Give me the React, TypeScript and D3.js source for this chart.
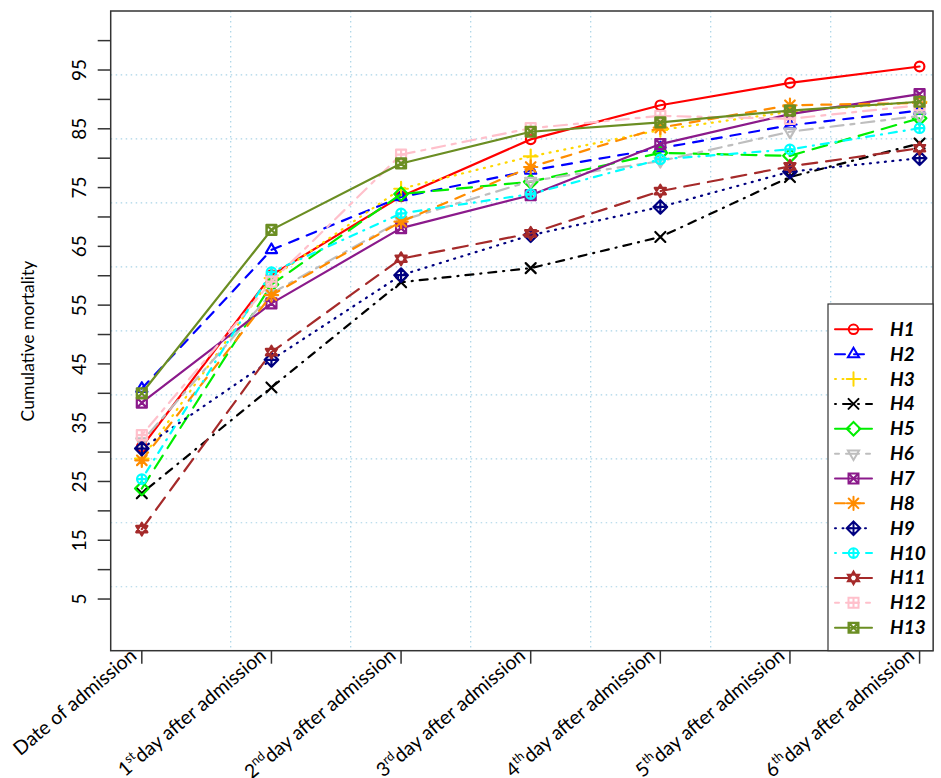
import React from 'react';
import * as d3 from 'd3';

// x categories ("^" wraps the superscript part)
const categories = [
  'Date of admission',
  '1^st^day after admission',
  '2^nd^day after admission',
  '3^rd^day after admission',
  '4^th^day after admission',
  '5^th^day after admission',
  '6^th^day after admission',
];
const dayIndex = [1, 2, 3, 4, 5, 6, 7];

const seriesNames = ['H1', 'H2', 'H3', 'H4', 'H5', 'H6', 'H7', 'H8', 'H9', 'H10', 'H11', 'H12', 'H13'];

// cumulative mortality per hospital
const h1 = [30.9, 60.1, 73.5, 83.2, 89.0, 92.8, 95.6];
const h2 = [40.8, 64.4, 73.4, 77.9, 81.7, 85.6, 88.1];
const h3 = [28.9, 59.6, 74.8, 80.3, 84.8, 87.9, 89.6];
const h4 = [23.0, 41.0, 58.9, 61.3, 66.6, 76.8, 82.5];
const h5 = [23.8, 58.5, 73.9, 76.0, 80.9, 80.4, 86.8];
const h6 = [31.8, 57.0, 69.4, 76.1, 79.5, 84.5, 87.2];
const h7 = [38.4, 55.3, 68.1, 73.7, 82.4, 87.5, 90.9];
const h8 = [28.6, 56.7, 69.2, 78.5, 85.2, 89.0, 89.4];
const h9 = [30.6, 45.7, 60.1, 66.9, 71.7, 77.7, 80.0];
const h10 = [25.4, 60.6, 70.6, 73.9, 79.8, 81.5, 85.1];
const h11 = [16.9, 47.0, 62.9, 67.2, 74.4, 78.6, 81.7];
const h12 = [32.9, 59.0, 80.6, 85.1, 87.2, 86.7, 89.0];
const h13 = [40.0, 67.8, 79.1, 84.5, 86.1, 88.1, 89.6];
const seriesValues = [h1, h2, h3, h4, h5, h6, h7, h8, h9, h10, h11, h12, h13];

const yTicks = d3.range(5, 101, 5);
const yTickLabels = [5, 15, 25, 35, 45, 55, 65, 75, 85, 95];

// styles
const colors = ['#FF0000', '#0000FF', '#FFD700', '#000000', '#00EE00', '#BEBEBE', '#8B1A8B',
  '#FF8C00', '#000080', '#00FFFF', '#A52A2A', '#FFC0CB', '#6B8E23'];
const DASH: Record<string, string | undefined> = {
  solid: undefined,
  dashed: '10,9',
  dotted: '1,6.5',
  dotdash: '1,7,8,7',
  longdash: '15,9',
  twodash: '4,7,13,7',
};
const ltys = ['solid', 'dashed', 'dotted', 'dotdash', 'longdash', 'twodash'];
const pchs = [1, 2, 3, 4, 5, 6, 7, 8, 9, 10, 11, 12, 13];

const W = 941;
const H = 778;
const LEFT = 110.7;
const TOP = 11;
const BOTTOM = 650.7;
const BOX_RIGHT = 933;
const FONT = "Lato, 'Open Sans', sans-serif";

const x = d3.scaleLinear().domain([0.76, 7.24]).range([LEFT, 950.7]);
const y = d3.scaleLinear().domain([-3.79, 105.04]).range([BOTTOM, TOP]);

function markerPath(pch: number): string {
  const r = 4.8;
  const circle = `M${r},0A${r},${r} 0 1,1 ${-r},0A${r},${r} 0 1,1 ${r},0Z`;
  const cross = (a: number) => `M${-a},${-a}L${a},${a}M${-a},${a}L${a},${-a}`;
  const plus = (a: number) => `M${-a},0H${a}M0,${-a}V${a}`;
  const sq = (a: number) => `M${-a},${-a}H${a}V${a}H${-a}Z`;
  const up = 'M0,-6.4L5.6,3.2L-5.6,3.2Z';
  const down = 'M0,6.4L5.6,-3.2L-5.6,-3.2Z';
  const diamond = (a: number) => `M0,${-a}L${a},0L0,${a}L${-a},0Z`;
  switch (pch) {
    case 1: return circle;
    case 2: return up;
    case 3: return plus(6.8);
    case 4: return cross(5);
    case 5: return diamond(6.8);
    case 6: return down;
    case 7: return sq(5) + cross(5);
    case 8: return plus(6.6) + cross(4.8);
    case 9: return diamond(6.8) + plus(6.8);
    case 10: return circle + plus(r);
    case 11: return up + down;
    case 12: return sq(5) + plus(5);
    case 13: return sq(5) + circle + cross(3.4);
    default: return circle;
  }
}

function CatLabel({ label, px }: { label: string; px: number }) {
  const parts = label.split('^');
  return (
    <text
      transform={`translate(${px - 4},${BOTTOM + 7}) rotate(-40)`}
      textAnchor="end"
      fontFamily={FONT}
      fontSize={19.5}
      fill="#000"
    >
      {parts.length === 1 ? (
        parts[0]
      ) : (
        <>
          <tspan>{parts[0]}</tspan>
          <tspan dy={-8} fontSize={12.5}>{parts[1]}</tspan>
          <tspan dy={8}>{parts[2]}</tspan>
        </>
      )}
    </text>
  );
}

export default function App() {
  const line = d3.line<number>()
    .x((_, i) => x(dayIndex[i]))
    .y((v) => y(v));

  const [d0, d1] = x.domain();
  const vGrid = d3.range(1, 7).map((k) => d0 + (k * (d1 - d0)) / 7);
  const [e0, e1] = y.domain();
  const hGrid = d3.range(1, 10).map((k) => e0 + (k * (e1 - e0)) / 10);

  const legX = 828;
  const legTop = 304;
  const legRow = d3.scaleLinear().domain([0, 12]).range([329.3, 627.7]);

  return (
    <svg width={W} height={H} style={{ position: 'absolute', left: 0, top: 0, background: '#fff' }}>
      <defs>
        <clipPath id="plot">
          <rect x={LEFT} y={TOP} width={BOX_RIGHT - LEFT} height={BOTTOM - TOP} />
        </clipPath>
      </defs>

      {/* grid */}
      <g stroke="#A9D3E6" strokeWidth={1.2} strokeDasharray="1.5,3.5">
        {vGrid.map((g, i) => (
          <line key={'v' + i} x1={x(g)} x2={x(g)} y1={TOP} y2={BOTTOM} />
        ))}
        {hGrid.map((g, i) => (
          <line key={'h' + i} x1={LEFT} x2={BOX_RIGHT} y1={y(g)} y2={y(g)} />
        ))}
      </g>

      {/* series */}
      <g clipPath="url(#plot)" fill="none">
        {seriesValues.map((vals, s) => (
          <g key={seriesNames[s]} stroke={colors[s]} strokeWidth={2.2} strokeLinecap="round" strokeLinejoin="round">
            <path d={line(vals) || ''} strokeDasharray={DASH[ltys[s % 6]]} />
            {vals.map((v, i) => (
              <path key={i} d={markerPath(pchs[s])} transform={`translate(${x(dayIndex[i])},${y(v)})`} />
            ))}
          </g>
        ))}
      </g>

      {/* box */}
      <rect x={LEFT} y={TOP} width={BOX_RIGHT - LEFT} height={BOTTOM - TOP} fill="none" stroke="#333" strokeWidth={1.5} />

      {/* y axis */}
      <g stroke="#333" strokeWidth={1.5}>
        {yTicks.map((t) => (
          <line key={t} x1={LEFT - 13} x2={LEFT} y1={y(t)} y2={y(t)} />
        ))}
      </g>
      {yTickLabels.map((t) => (
        <text
          key={t}
          transform={`translate(86,${y(t)}) rotate(-90)`}
          textAnchor="middle"
          fontFamily={FONT}
          fontSize={19}
          fill="#000"
        >
          {t}
        </text>
      ))}
      <text
        transform={`translate(34,341) rotate(-90)`}
        textAnchor="middle"
        fontFamily={FONT}
        fontSize={17.5}
        fill="#000"
      >
        Cumulative mortality
      </text>

      {/* x axis */}
      <g stroke="#333" strokeWidth={1.5}>
        {dayIndex.map((d) => (
          <line key={d} x1={x(d)} x2={x(d)} y1={BOTTOM} y2={BOTTOM + 13} />
        ))}
      </g>
      {categories.map((c, i) => (
        <CatLabel key={c} label={c} px={x(dayIndex[i])} />
      ))}

      {/* legend */}
      <rect x={legX} y={legTop} width={BOX_RIGHT - legX} height={BOTTOM - legTop} fill="#fff" stroke="#333" strokeWidth={1.2} />
      {seriesNames.map((n, s) => {
        const ry = legRow(s);
        return (
          <g key={n}>
            <g stroke={colors[s]} strokeWidth={2} fill="none" strokeLinecap="round">
              <line x1={835} x2={872} y1={ry} y2={ry} strokeDasharray={DASH[ltys[s % 6]]} />
              <path d={markerPath(pchs[s])} transform={`translate(853.5,${ry})`} />
            </g>
            <text x={890} y={ry + 6.5} fontFamily={FONT} fontSize={19} fontWeight="bold" fontStyle="italic" fill="#000">
              {n}
            </text>
          </g>
        );
      })}
    </svg>
  );
}
